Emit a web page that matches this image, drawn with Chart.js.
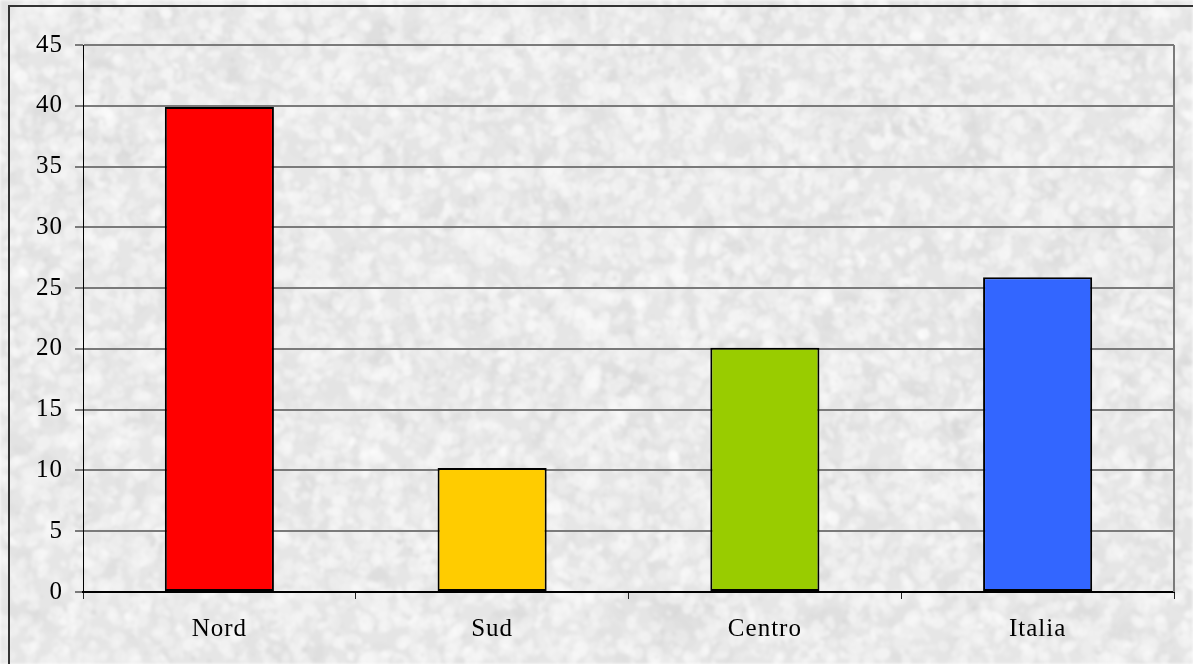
<!DOCTYPE html>
<html>
<head>
<meta charset="utf-8">
<script src="https://cdn.jsdelivr.net/npm/chart.js@4/dist/chart.umd.min.js"></script>
<style>
  html, body { margin: 0; padding: 0; background: #fff; }
  #wrap { width: 1193px; height: 664px; }
</style>
</head>
<body>
<div id="wrap"><canvas id="chart" width="1193" height="664"></canvas></div>
<script>
// categorie e valori
const regions = ['Nord', 'Sud', 'Centro', 'Italia'];
const values = [39.9, 10.2, 20.1, 25.9];
const barColors = ['#FF0000', '#FFCC00', '#99CC00', '#3366FF'];
const yTicks = [0, 5, 10, 15, 20, 25, 30, 35, 40, 45];

// small seeded generator so the granite fill is the same on every load
function mulberry32(a) {
    return function () {
        a |= 0; a = a + 0x6D2B79F5 | 0;
        let t = Math.imul(a ^ a >>> 15, 1 | a);
        t = t + Math.imul(t ^ t >>> 7, 61 | t) ^ t;
        return ((t ^ t >>> 14) >>> 0) / 4294967296;
    };
}

function makeGranite(w, h) {
    const c = document.createElement('canvas');
    c.width = w; c.height = h;
    const g = c.getContext('2d');
    const rnd = mulberry32(1234);
    g.fillStyle = '#e6e6e6';
    g.fillRect(0, 0, w, h);
    // soft grey clouds
    for (let i = 0; i < 1800; i++) {
        const x = rnd() * w, y = rnd() * h;
        const r = 6 + rnd() * 14;
        const v = 205 + Math.floor(rnd() * 20);
        g.fillStyle = `rgba(${v},${v},${v},0.16)`;
        g.beginPath();
        g.ellipse(x, y, r, r * (0.3 + rnd() * 0.6), rnd() * Math.PI, 0, Math.PI * 2);
        g.fill();
    }
    // light mottles
    for (let i = 0; i < 11000; i++) {
        const x = rnd() * w, y = rnd() * h;
        const r = 2 + rnd() * 7;
        const v = 240 + Math.floor(rnd() * 15);
        g.fillStyle = `rgba(${v},${v},${v},0.45)`;
        g.beginPath();
        g.ellipse(x, y, r, r * (0.3 + rnd() * 0.7), rnd() * Math.PI, 0, Math.PI * 2);
        g.fill();
    }
    // darker flecks
    for (let i = 0; i < 2000; i++) {
        const x = rnd() * w, y = rnd() * h;
        const r = 0.8 + rnd() * 2;
        const v = 190 + Math.floor(rnd() * 35);
        g.fillStyle = `rgba(${v},${v},${v},0.25)`;
        g.beginPath();
        g.arc(x, y, r, 0, Math.PI * 2);
        g.fill();
    }
    const out = document.createElement('canvas');
    out.width = w; out.height = h;
    const o = out.getContext('2d');
    o.filter = 'blur(1.6px)';
    o.drawImage(c, 0, 0);
    return out;
}

const granite = makeGranite(1193, 664);

const backdrop = {
    id: 'backdrop',
    beforeDraw(chart) {
        const ctx = chart.ctx;
        ctx.drawImage(granite, 0, 0);
        // outer frame
        ctx.save();
        ctx.strokeStyle = '#333';
        ctx.lineWidth = 2;
        ctx.beginPath();
        ctx.moveTo(9, 700);
        ctx.lineTo(9, 6);
        ctx.lineTo(1200, 6);
        ctx.stroke();
        ctx.restore();
        // the serif labels are set a little loose
        ctx.letterSpacing = '1px';
    },
    beforeDatasetsDraw(chart) {
        const a = chart.chartArea;
        const ctx = chart.ctx;
        ctx.save();
        ctx.strokeStyle = '#7a7a7a';
        ctx.lineWidth = 2;
        ctx.beginPath();
        ctx.moveTo(a.right, a.top);
        ctx.lineTo(a.right, a.bottom);
        ctx.stroke();
        ctx.restore();
    }
};

new Chart(document.getElementById('chart'), {
    type: 'bar',
    data: {
        labels: regions,
        datasets: [{
            data: values,
            backgroundColor: barColors,
            borderColor: '#000',
            borderWidth: 2,
            borderSkipped: false,
            barPercentage: 0.4,
            categoryPercentage: 1
        }]
    },
    options: {
        responsive: false,
        animation: false,
        layout: { padding: { left: 0, top: 45, right: 19, bottom: 0 } },
        plugins: { legend: { display: false }, tooltip: { enabled: false } },
        scales: {
            x: {
                afterFit(scale) { scale.height = 72; },
                grid: { display: true, drawOnChartArea: false, tickLength: 7, color: '#222', lineWidth: 1 },
                border: { color: '#000', width: 2 },
                ticks: { color: '#000', padding: 15, font: { family: 'Liberation Serif', size: 25 } }
            },
            y: {
                min: 0,
                max: 45,
                afterFit(scale) { scale.width = 83; },
                afterBuildTicks(scale) { scale.ticks = yTicks.map(v => ({ value: v })); },
                grid: { color: '#7a7a7a', lineWidth: 2, tickLength: 8 },
                border: { color: '#000', width: 1 },
                ticks: { color: '#000', padding: 12, font: { family: 'Liberation Serif', size: 25 } }
            }
        }
    },
    plugins: [backdrop]
});
</script>
</body>
</html>
